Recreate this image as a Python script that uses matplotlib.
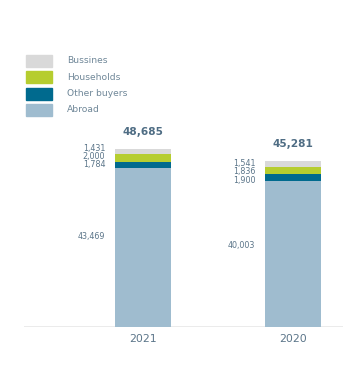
import matplotlib.pyplot as plt
from matplotlib.patches import Rectangle

# === Data ===
years = ["2021", "2020"]
categories = ["Abroad", "Other buyers", "Households", "Bussines"]
abroad = [43469, 40003]
other_buyers = [1784, 1900]
households = [2000, 1836]
bussines = [1431, 1541]
totals = ["48,685", "45,281"]

colors = {"Abroad": "#9fbccf", "Other buyers": "#006a8e",
          "Households": "#b6cd2f", "Bussines": "#d9d9d9"}
text_col = "#5b7589"

series = {"Abroad": abroad, "Other buyers": other_buyers,
          "Households": households, "Bussines": bussines}

W, H = 360, 366
fig = plt.figure(figsize=(W / 100, H / 100), dpi=100)
ax = fig.add_axes([24 / W, (H - 326.7) / H, 319 / W, 220 / H])
ax.set_xlim(-0.793, 1.333)
ax.set_ylim(0, 60300)
ax.axis("off")
ax.axhline(0, color="#e8e8e8", lw=1.2, zorder=0)

x = [0, 1]
bw = 0.373
bottoms = [0, 0]
# label offsets in points (upwards) per bar for small segments
small_off = {"Other buyers": [0, -2.5], "Households": [1, -1], "Bussines": [2.5, 0.8]}
for cat in categories:
    vals = series[cat]
    ax.bar(x, vals, bw, bottom=bottoms, color=colors[cat], linewidth=0)
    for i in range(2):
        yc = bottoms[i] + vals[i] / 2
        if cat == "Abroad":
            dy = [8, 6][i]
        else:
            dy = small_off[cat][i]
        ax.annotate(f"{vals[i]:,}", (x[i] - bw / 2, yc), xytext=(-7, dy),
                    textcoords="offset points", ha="right", va="center",
                    fontsize=5.8, color=text_col)
    bottoms = [bottoms[i] + vals[i] for i in range(2)]

for i in range(2):
    ax.annotate(totals[i], (x[i], bottoms[i]), xytext=(0, 12.5), textcoords="offset points",
                ha="center", va="center", fontsize=7.6, color="#4f6d84", fontweight="bold")
    ax.annotate(years[i], (x[i], 0), xytext=(0, -9), textcoords="offset points",
                ha="center", va="center", fontsize=7.8, color=text_col)

# legend
leg_items = ["Bussines", "Households", "Other buyers", "Abroad"]
for k, name in enumerate(leg_items):
    top = 55 + k * 16.4
    fig.patches.append(Rectangle((26 / W, (H - top - 11.7) / H), 25.7 / W, 11.7 / H,
                                 transform=fig.transFigure, color=colors[name]))
    fig.text(67 / W, (H - top - 5.8) / H, name, fontsize=6.6, color="#6f8798",
             va="center", ha="left")

fig.savefig("out.png", dpi=100)
